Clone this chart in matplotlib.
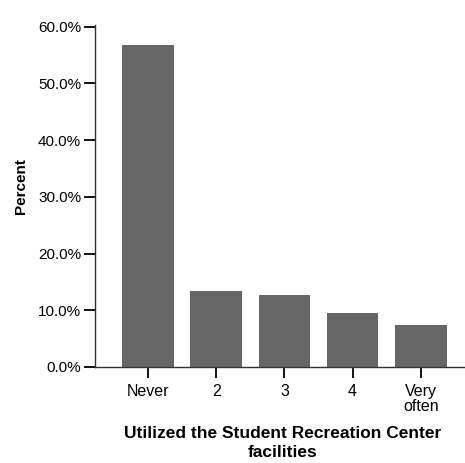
import matplotlib
matplotlib.use("Agg")
import matplotlib.pyplot as plt

plt.rcParams['font.family'] = ['Liberation Sans', 'DejaVu Sans']

categories = ['Never', '2', '3', '4', 'Very\noften']
percents = [56.7, 13.4, 12.7, 9.5, 7.4]
yticks = [0, 10, 20, 30, 40, 50, 60]

fig = plt.figure(figsize=(4.65, 4.63), dpi=100)
ax = fig.add_axes([95/465, 1 - 367/463, 1 - 95/465, (367 - 25)/463])

x = range(len(categories))
ax.bar(x, percents, width=0.76, color='#666666', zorder=2)

ax.set_xlim(-0.78, 4.65)
ax.set_ylim(0, 60.3)
ax.set_xticks(list(x))
ax.set_xticklabels(categories, fontsize=11.5, linespacing=1.0)
ax.set_yticks(yticks)
ax.set_yticklabels([f'{v:.1f}%' for v in yticks], fontsize=11)

for side in ['top', 'right']:
    ax.spines[side].set_visible(False)
for side in ['left', 'bottom']:
    ax.spines[side].set_linewidth(1.0)
    ax.spines[side].set_color('#333333')
ax.tick_params(axis='y', length=8, width=1.3, color='black', pad=2)
ax.tick_params(axis='x', length=8, width=1.3, color='black', pad=4)

ax.set_ylabel('Percent', fontsize=11, fontweight='bold')
ax.yaxis.set_label_coords(-0.181, 0.529)
ax.set_xlabel('Utilized the Student Recreation Center\nfacilities',
              fontsize=12.5, fontweight='bold', linespacing=1.3)
ax.xaxis.set_label_coords(0.508, -0.1725)

fig.savefig('out.png', dpi=100)
